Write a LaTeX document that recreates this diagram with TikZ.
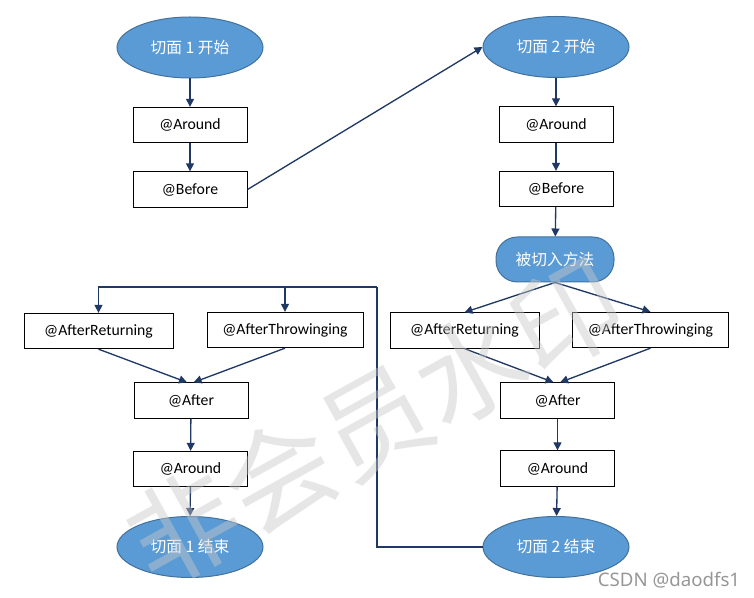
\documentclass[tikz,border=0pt]{standalone}
\usepackage{fontspec}
\setmainfont{Carlito}
\newfontfamily\cjk{Noto Sans CJK SC}
\newfontfamily\csdnfont{Noto Sans}
\usetikzlibrary{arrows.meta,shapes.geometric}
\definecolor{phaseblue}{RGB}{91,155,213}
\definecolor{phaseedge}{RGB}{65,113,156}
\definecolor{flownavy}{RGB}{31,56,100}
\definecolor{markgray}{RGB}{200,200,200}
\definecolor{csdngray}{RGB}{150,150,150}
\tikzset{every picture/.style={line width=0.75pt}}
\tikzset{
    advice/.style={draw=black, fill=white, minimum width=85.5pt, minimum height=26.5pt, inner sep=2pt, font=\fontsize{11.8}{14}\selectfont},
    phase/.style={ellipse, draw=phaseedge, fill=phaseblue, minimum width=109.5pt, minimum height=45.75pt, inner sep=0pt, text=white, font=\cjk\fontsize{11.8}{14}\selectfont},
    target/.style={draw=phaseedge, fill=phaseblue, rounded corners=16pt, minimum width=88.5pt, minimum height=33.75pt, inner sep=0pt, text=white, font=\cjk\fontsize{11.8}{14}\selectfont},
    flow/.style={draw=flownavy, line width=1pt, -{Triangle[length=6pt,width=6pt]}},
    loopline/.style={draw=flownavy, line width=1pt},
}

\begin{document}
\begin{tikzpicture}[x=0.75pt,y=0.75pt,yscale=-1,xscale=1]
        \useasboundingbox (0,0) rectangle (754,598);

        \node (s1) at (190,47.5) [phase] {切面 1 开始};
        \node (a1) at (190,125) [advice] {@Around};
        \node (b1) at (190,189.5) [advice] {@Before};
        \node (s2) at (556,47) [phase] {切面 2 开始};
        \node (a2) at (556,124.5) [advice] {@Around};
        \node (b2) at (556,189) [advice] {@Before};
        \node (m) at (555,259.5) [target] {被切入方法};
        \node (ar2) at (464.5,330.5) [advice, minimum width=111.75pt] {@AfterReturning};
        \node (at2) at (650.5,330) [advice, minimum width=117pt] {@AfterThrowinging};
        \node (af2) at (557.5,400.5) [advice] {@After};
        \node (r2) at (557.5,468.5) [advice] {@Around};
        \node (e2) at (556,547) [phase] {切面 2 结束};
        \node (ar1) at (98.5,331) [advice, minimum width=111.75pt] {@AfterReturning};
        \node (at1) at (285,330) [advice, minimum width=117pt] {@AfterThrowinging};
        \node (af1) at (191,400.5) [advice] {@After};
        \node (r1) at (190.5,469) [advice] {@Around};
        \node (e1) at (190,547) [phase] {切面 1 结束};
        \coordinate (ret) at (377,287);

        \draw [flow] (s1) -- (a1);
        \draw [flow] (a1) -- (b1);
        \draw [flow] (b1.east) -- (s2.west);
        \draw [flow] (s2) -- (a2);
        \draw [flow] (a2) -- (b2);
        \draw [flow] (b2) -- (m);
        \draw [flow] (m.south) -- (ar2.north);
        \draw [flow] (m.south) -- (at2.north);
        \draw [flow] (ar2.south) -- ([xshift=-3pt]af2.north);
        \draw [flow] (at2.south) -- ([xshift=2pt]af2.north);
        \draw [flow] (af2) -- (r2);
        \draw [flow] (r2) -- (e2);
        \draw [loopline] (e2.west) -| (ret);
        \draw [flow] (ret) -| (ar1.north);
        \draw [flow] (ret -| at1.north) -- (at1.north);
        \draw [flow] (ar1.south) -- ([xshift=-3pt]af1.north);
        \draw [flow] (at1.south) -- ([xshift=2pt]af1.north);
        \draw [flow] (af1) -- (r1);
        \draw [flow] (r1) -- (e1);

        \node (csdn) at (669,580) [text=csdngray, font=\csdnfont\fontsize{14}{16}\selectfont] {CSDN @daodfs1};
        \node (mark) at (375,422) [rotate=29, text=markgray, text opacity=0.45, font=\cjk\fontsize{82}{90}\selectfont] {非会员水印};

\end{tikzpicture}
\end{document}
